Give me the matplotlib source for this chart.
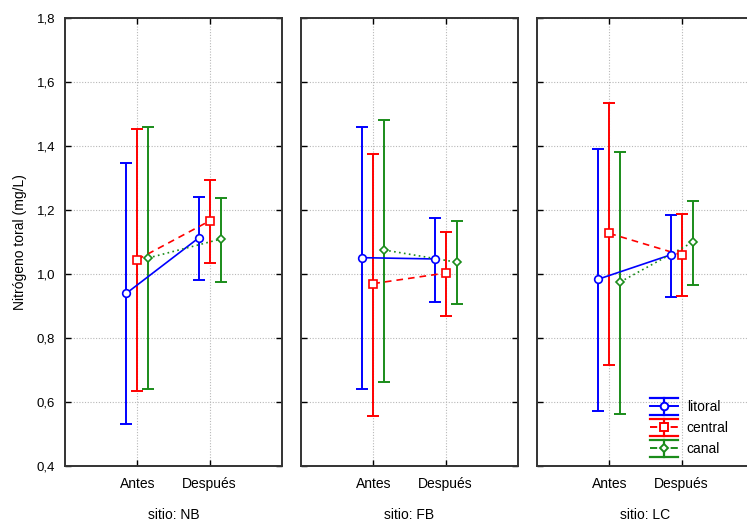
import matplotlib
matplotlib.use("Agg")
import matplotlib.pyplot as plt
from matplotlib.legend_handler import HandlerBase
from matplotlib.lines import Line2D
import numpy as np

plt.rcParams['font.family'] = ['Liberation Sans', 'DejaVu Sans']

sites = ["NB", "FB", "LC"]
periods = ["Antes", "Después"]
series = ["litoral", "central", "canal"]

# values per site: [Antes, Después]
mean_litoral = {"NB": [0.94, 1.113], "FB": [1.051, 1.047], "LC": [0.984, 1.060]}
mean_central = {"NB": [1.045, 1.166], "FB": [0.970, 1.003], "LC": [1.127, 1.059]}
mean_canal   = {"NB": [1.050, 1.109], "FB": [1.075, 1.037], "LC": [0.975, 1.099]}

low_litoral = {"NB": [0.530, 0.980], "FB": [0.640, 0.913], "LC": [0.573, 0.928]}
low_central = {"NB": [0.635, 1.033], "FB": [0.557, 0.870], "LC": [0.716, 0.932]}
low_canal   = {"NB": [0.640, 0.975], "FB": [0.664, 0.907], "LC": [0.563, 0.966]}

up_litoral = {"NB": [1.347, 1.241], "FB": [1.458, 1.175], "LC": [1.392, 1.184]}
up_central = {"NB": [1.453, 1.295], "FB": [1.376, 1.132], "LC": [1.534, 1.188]}
up_canal   = {"NB": [1.459, 1.237], "FB": [1.482, 1.166], "LC": [1.381, 1.227]}

yticks = [0.4, 0.6, 0.8, 1.0, 1.2, 1.4, 1.6, 1.8]
ytick_labels = ["0,4", "0,6", "0,8", "1,0", "1,2", "1,4", "1,6", "1,8"]

colors = ["#0000ff", "#ff0000", "#1a8c1a"]
markers = ["o", "s", "D"]
msizes = [5.5, 6, 4.5]
lstyles = ["-", (0, (4, 3)), (0, (1, 2))]
offsets = [-0.15, 0.0, 0.15]

means = [mean_litoral, mean_central, mean_canal]
lows = [low_litoral, low_central, low_canal]
ups = [up_litoral, up_central, up_canal]


class HandlerEB(HandlerBase):
    def create_artists(self, legend, orig_handle, xdescent, ydescent, width, height,
                       fontsize, trans):
        c = orig_handle.get_color()
        ls = orig_handle.get_linestyle()
        mk = orig_handle.get_marker()
        x0 = -xdescent
        x1 = x0 + width
        xc = (x0 + x1) / 2
        cy = height / 2 - ydescent
        e = 6.0
        arts = [
            Line2D([x0, x1], [cy, cy], color=c, linestyle=ls, linewidth=1.4),
            Line2D([xc, xc], [cy - e, cy + e], color=c, linewidth=1.6),
            Line2D([x0, x1], [cy + e, cy + e], color=c, linewidth=1.6),
            Line2D([x0, x1], [cy - e, cy - e], color=c, linewidth=1.6),
            Line2D([xc], [cy], color=c, marker=mk, markersize=orig_handle.get_markersize(),
                   markerfacecolor='white', markeredgecolor=c, markeredgewidth=1.4,
                   linestyle='none'),
        ]
        for a in arts:
            a.set_transform(trans)
        return arts


W, H = 747, 523
fig = plt.figure(figsize=(W / 100, H / 100), dpi=100)

lefts = [65, 301, 537]
top_px, bot_px = 18, 466
pw = 217

handles = [Line2D([], [], color=colors[k], linestyle=lstyles[k], marker=markers[k],
                  markersize=msizes[k]) for k in range(3)]

for i, site in enumerate(sites):
    ax = fig.add_axes([lefts[i] / W, (H - bot_px) / H, pw / W, (bot_px - top_px) / H])
    x = np.arange(len(periods))
    for k in range(3):
        m = np.array(means[k][site])
        lo = np.array(lows[k][site])
        up = np.array(ups[k][site])
        xx = x + offsets[k]
        ax.errorbar(xx, m, yerr=[m - lo, up - m], fmt='none', ecolor=colors[k],
                    elinewidth=1.4, capsize=4.5, capthick=1.4, zorder=3)
        ax.plot(xx, m, color=colors[k], linestyle=lstyles[k], linewidth=1.2, zorder=4)
        ax.plot(xx, m, linestyle='none', marker=markers[k], markersize=msizes[k],
                markerfacecolor='white', markeredgecolor=colors[k], markeredgewidth=1.2, zorder=5)
    ax.set_xlim(-1, 2)
    ax.set_ylim(0.4, 1.8)
    ax.set_xticks(x)
    ax.set_xticklabels(periods, fontsize=10)
    ax.set_yticks(yticks)
    if i == 0:
        ax.set_yticklabels(ytick_labels, fontsize=9.5)
        ax.set_ylabel("Nitrógeno toral (mg/L)", fontsize=10)
        ax.yaxis.set_label_coords(-0.175, 0.5)
    else:
        ax.set_yticklabels([])
    ax.tick_params(direction='in', length=4, width=1, top=True, right=True, pad=7)
    ax.tick_params(axis='x', pad=8)
    ax.grid(True, color='#b8b8b8', linestyle=(0, (1, 1.5)), linewidth=0.8)
    ax.set_axisbelow(True)
    for sp in ax.spines.values():
        sp.set_linewidth(1.4)
        sp.set_color('#333333')
    ax.set_xlabel("sitio: " + site, fontsize=10, labelpad=12)
    if i == 2:
        ax.legend(handles=handles, labels=series, loc='lower left', frameon=False,
                  fontsize=10, handlelength=2.0, handletextpad=0.65, labelspacing=0.5,
                  borderpad=0, borderaxespad=0, bbox_to_anchor=(0.52, 0.022),
                  handler_map={Line2D: HandlerEB()})

fig.savefig("out.png", dpi=100)
